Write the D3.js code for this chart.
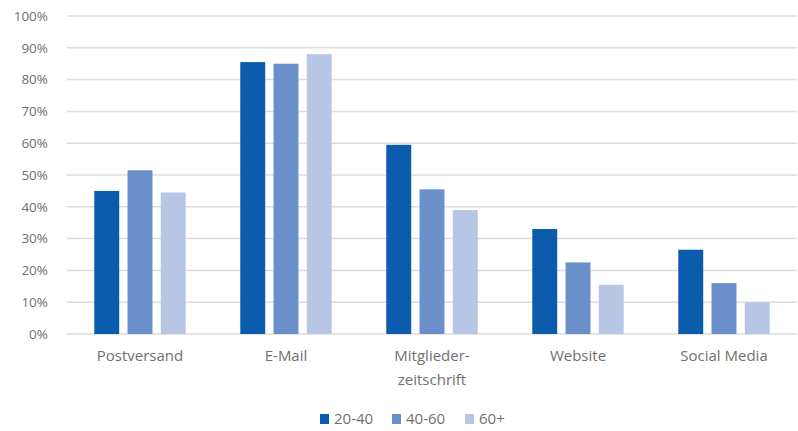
<!DOCTYPE html>
<html>
<head>
<meta charset="utf-8">
<script src="https://cdn.jsdelivr.net/npm/d3@7"></script>
<style>
  body { margin: 0; background: #fff; }
  svg text { font-family: "Open Sans", sans-serif; fill: #707070; }
</style>
</head>
<body>
<div id="chart_container"></div>
<script>
// data
var categories = ["Postversand", "E-Mail", "Mitglieder-\nzeitschrift", "Website", "Social Media"];
var seriesNames = ["20-40", "40-60", "60+"];
var values2040 = [45, 85.5, 59.5, 33, 26.5];
var values4060 = [51.5, 85, 45.5, 22.5, 16];
var values60 = [44.5, 88, 39, 15.5, 10];
var yTicks = [0, 10, 20, 30, 40, 50, 60, 70, 80, 90, 100];

var colors = ["#0b5cad", "#6a8fcb", "#b8c6e5"];

var width = 798, height = 431;
var margin = {top: 16, right: 1, bottom: 98, left: 67};

var svg = d3.select("#chart_container").append("svg")
    .attr("width", width)
    .attr("height", height);

var x = d3.scaleBand()
    .domain(categories)
    .range([margin.left, width - margin.right]);

var x1 = d3.scaleBand()
    .domain(seriesNames)
    .range([0, x.bandwidth()])
    .paddingInner(0.25)
    .paddingOuter(0.82);

var y = d3.scaleLinear()
    .domain([0, 100])
    .range([height - margin.bottom + 1, margin.top]);

// gridlines
svg.append("g")
  .selectAll("line")
  .data(yTicks)
  .enter()
  .append("line")
    .attr("x1", margin.left)
    .attr("x2", width - margin.right)
    .attr("y1", d => y(d))
    .attr("y2", d => y(d))
    .attr("stroke", "#dcdcdc")
    .attr("stroke-width", 1.5);

// y labels
svg.append("g")
  .selectAll("text")
  .data(yTicks)
  .enter()
  .append("text")
    .attr("x", 48)
    .attr("y", d => y(d))
    .attr("dy", "0.35em")
    .attr("text-anchor", "end")
    .style("font-size", "13.5px")
    .text(d => d + "%");

var series = [values2040, values4060, values60];
var rows = categories.map((c, i) => ({
  cat: c,
  vals: seriesNames.map((s, j) => ({key: s, value: series[j][i], idx: j}))
}));

var groups = svg.append("g")
  .selectAll("g")
  .data(rows)
  .enter()
  .append("g")
    .attr("transform", d => "translate(" + x(d.cat) + ",0)");

groups.selectAll("rect")
  .data(d => d.vals)
  .enter()
  .append("rect")
    .attr("x", d => x1(d.key))
    .attr("width", x1.bandwidth())
    .attr("y", d => y(d.value))
    .attr("height", d => y(0) - y(d.value))
    .attr("fill", d => colors[d.idx]);

// category labels
svg.append("g")
  .selectAll("text")
  .data(categories)
  .enter()
  .append("text")
    .attr("x", d => x(d) + x.bandwidth() / 2)
    .attr("y", 361)
    .attr("text-anchor", "middle")
    .style("font-size", "15px")
    .each(function(d) {
      var lines = d.split("\n");
      var t = d3.select(this);
      lines.forEach((l, i) => {
        t.append("tspan")
          .attr("x", x(d) + x.bandwidth() / 2)
          .attr("dy", i === 0 ? 0 : 24)
          .text(l);
      });
    });

// legend
var legendX = [320, 392, 465];
var legend = svg.append("g")
  .selectAll("g")
  .data(seriesNames)
  .enter()
  .append("g")
    .attr("transform", (d, i) => "translate(" + legendX[i] + ",419)");

legend.append("rect")
    .attr("x", 0)
    .attr("y", -5)
    .attr("width", 9)
    .attr("height", 10)
    .attr("fill", (d, i) => colors[i]);

legend.append("text")
    .attr("x", 14)
    .attr("y", 0)
    .attr("dy", "0.35em")
    .style("font-size", "15px")
    .text(d => d);
</script>
</body>
</html>
